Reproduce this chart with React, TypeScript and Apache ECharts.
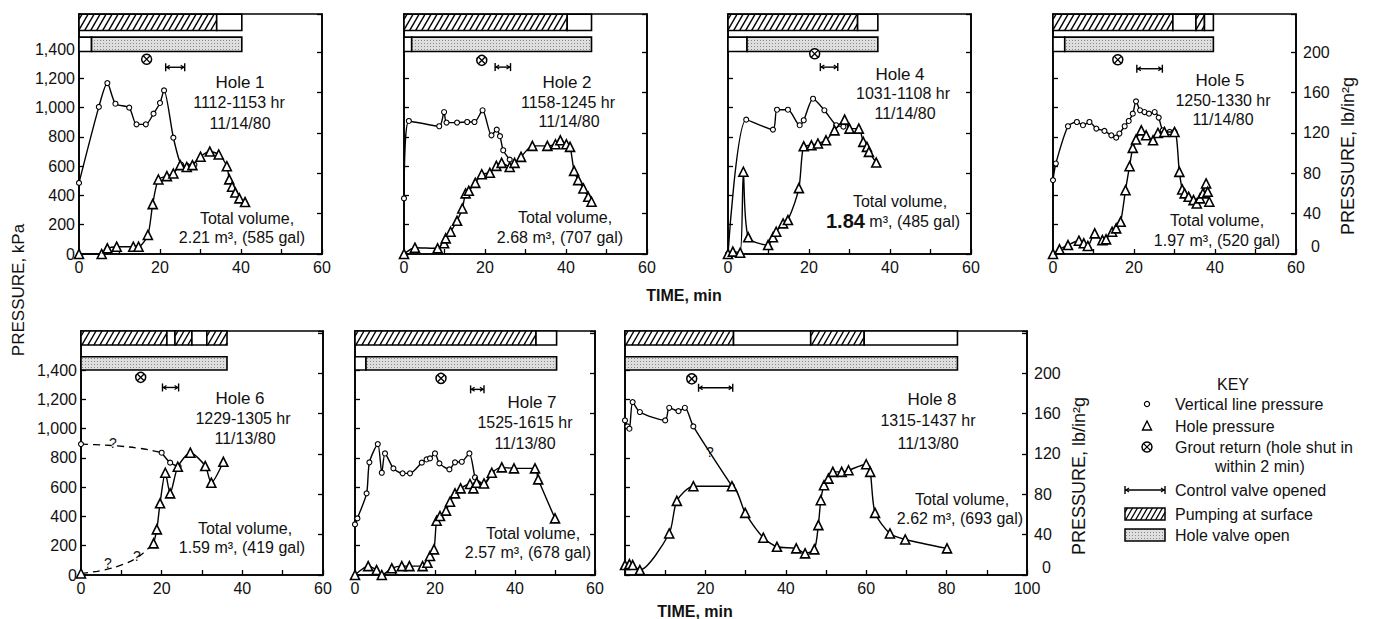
import React, { useEffect, useRef } from "react";
import * as echarts from "echarts";

// ---------------- DATA (time min, pressure kPa) ----------------
// Hole 1
const h1Vertical = [[0,486],[4.9,1005],[7,1168],[9,1027],[12.4,1000],[14.2,886],[16.5,886],[18.4,959],[20,1032],[21,1118],[23.3,795],[25.2,610],[26.8,600],[28.5,610]];
const h1Hole = [[0,0],[5.6,0],[7,39],[9.3,50],[13.4,50],[14.7,50],[17,130],[18.2,341],[19.6,509],[21.7,532],[23.3,550],[25,607],[26.6,595],[28,607],[30,665],[32.3,700],[34.5,680],[36.5,600],[37.1,510],[37.8,460],[38.6,420],[39.6,380],[41,355]];
const h1Pump = [[0,34,0],[34,40.2,1]];
const h1Valve = [[0,3.1,1],[3.1,40.2,2]];
const h1Grout = [[16.7,1331]];
const h1Control = [[21.4,26.1,1276]];

// Hole 2
const h2Vertical = [[0,380],[1.2,909],[8.7,873],[9.9,970],[10.5,898],[13.1,898],[15.6,902],[17.4,902],[19.4,982],[21.6,811],[22.9,850],[23.7,805],[24.5,709],[26.1,645]];
const h2Hole = [[0,0],[2.7,43],[8.3,39],[9.9,73],[10.3,107],[11.5,152],[13.1,227],[14.4,311],[15.2,414],[16,432],[17.6,486],[19.2,545],[21.2,555],[22.8,602],[24.1,623],[26.1,595],[27.3,623],[28.9,664],[31.7,739],[35.4,739],[37.4,750],[38.6,777],[40.1,750],[41,732],[42,568],[43,505],[44.3,448],[45.5,391],[46.3,357]];
const h2Pump = [[0,40.3,0],[40.3,46.3,1]];
const h2Valve = [[0,1.9,1],[1.9,46.3,2]];
const h2Grout = [[19.2,1323]];
const h2Control = [[22.5,26.3,1277]];

// Hole 4
const h4Vertical = [[0,0],[4.5,918],[11.1,850],[12.1,986],[14.8,986],[17.7,880],[18.7,914],[21,1061],[23.8,982],[26.7,880],[28.5,870]];
const h4Hole = [[0,0],[1.2,16],[3,9],[3.8,562],[5,114],[9.9,61],[11.1,114],[11.9,152],[13.6,209],[14.8,232],[17.5,450],[18.7,736],[20.6,743],[22.2,755],[24.2,777],[26.3,845],[28.8,918],[30,857],[32.3,857],[33.4,766],[34.3,732],[34.8,698],[36.6,625]];
const h4Pump = [[0,32,0],[32,37,1]];
const h4Valve = [[0,4.7,1],[4.7,37,2]];
const h4Grout = [[21.4,1368]];
const h4Control = [[22.8,27.1,1277]];

// Hole 5
const h5Vertical = [[0,505],[0.7,618],[3.7,873],[5.9,902],[7.4,880],[9,902],[10.7,857],[12.7,841],[14.4,811],[15.6,795],[16.4,823],[17.7,873],[18.7,909],[19.7,959],[20.5,1043],[21.5,982],[22.6,970],[23.7,959],[25.1,970],[26.1,932],[27.1,845],[28.8,834],[30,834]];
const h5Hole = [[0,0],[1.6,32],[3.7,61],[6.4,91],[7.6,73],[8.6,55],[10.3,141],[12.2,95],[13.1,100],[14.6,152],[15.6,175],[16.7,220],[17.9,436],[18.9,600],[19.7,725],[20.5,782],[21.8,845],[23,811],[24.7,777],[25.9,827],[27.5,834],[30,834],[31.2,561],[31.9,441],[32.5,414],[33.5,391],[34.7,368],[35.5,345],[36.3,380],[37,414],[37.8,482],[38.2,425],[38.6,357]];
const h5Pump = [[0,29.6,0],[29.6,35.3,1],[35.3,37.4,0],[37.4,39.6,1]];
const h5Valve = [[0,2.9,1],[2.9,39.6,2]];
const h5Grout = [[16.0,1327]];
const h5Control = [[20.7,27.0,1266]];

// Hole 6
const h6VerticalDashed = [[0,895],[6,888],[12,875],[17,855],[20,836]];
const h6Vertical = [[20,836],[22.1,768],[24.2,740]];
const h6HoleDashed = [[0,11],[4,25],[8,50],[12,90],[15,140],[18,216]];
const h6Hole = [[18,216],[18.8,312],[19.6,490],[20.9,699],[22.1,558],[24,740],[27.1,836],[30.8,745],[32.3,631],[35.3,774]];
const h6Pump = [[0,21.3,0],[21.3,23.3,1],[23.3,27.5,0],[27.5,31.2,1],[31.2,36.2,0]];
const h6Valve = [[0,36.2,2]];
const h6Grout = [[14.8,1351]];
const h6Control = [[20.2,24.2,1282]];

// Hole 7
const h7Vertical = [[0,346],[0.6,387],[2.9,558],[3.6,770],[5.7,895],[6.7,699],[7.5,831],[9.6,729],[11.9,695],[13.75,695],[16.7,768],[17.9,790],[18.75,797],[20,831],[21.1,763],[23.6,722],[25,770],[26.7,774],[28.6,831],[30,667],[30.8,626],[32.1,615],[34.2,699]];
const h7Hole = [[0,0],[3.3,61],[5.4,34],[6.7,0],[9.2,46],[11.7,61],[13.6,61],[16.9,61],[18.1,84],[18.75,130],[19.75,175],[20.4,371],[21.25,403],[22.75,440],[23.75,501],[25,558],[26.4,592],[28.75,622],[29.6,592],[30.4,631],[32.25,626],[34.2,699],[36.7,736],[39.75,729],[45,729],[45.8,654],[50,387]];
const h7Pump = [[0,45.25,0],[45.25,50.4,1]];
const h7Valve = [[0,2.75,1],[2.75,50.4,2]];
const h7Grout = [[21.5,1344]];
const h7Control = [[28.9,32.25,1269]];

// Hole 8
const h8Vertical = [[0,1057],[0.6,1016],[1.1,1000],[1.9,1182],[3.7,1114],[10,1057],[11,1143],[13.3,1120],[14.9,1143],[17,1016],[26.6,607]];
const h8Hole = [[0,68],[1.1,75],[1.9,68],[3.7,34],[11,284],[12.9,507],[17,607],[26.6,607],[29.9,425],[34.4,255],[37.8,193],[42.6,182],[44.8,148],[47.1,175],[48.1,341],[48.7,511],[49.5,614],[50.6,659],[51.7,705],[53.9,705],[55.6,716],[60,757],[61,705],[62.2,425],[65.9,284],[69.7,243],[80.1,182]];
const h8Pump = [[0,27,0],[27,46.2,1],[46.2,59.5,0],[59.5,82.7,1]];
const h8Valve = [[0,82.7,2]];
const h8Grout = [[16.6,1341]];
const h8Control = [[18.3,26.8,1280]];

const kpaTickStep = 200;
const psiTickStep = 40;
const timeTickStep = 10;
const KPA_PER_PSI = 6.89476;

// ---------------- LAYOUT ----------------
const topRow = { kMax: 1640, pump: [1527, 1638], valve: [1384, 1482] };
const botRow = { kMax: 1668, pump: [1572, 1668], valve: [1401, 1492] };

const panels = [
  { left: 79, top: 14, width: 243, height: 240, tMax: 60, row: topRow, leftLabels: true, rightLabels: false, hideZero: false,
    solid: [h1Vertical], hole: [h1Hole], dashedV: null, dashedH: null, pump: h1Pump, valve: h1Valve, grout: h1Grout, control: h1Control },
  { left: 404, top: 14, width: 243, height: 240, tMax: 60, row: topRow, leftLabels: false, rightLabels: false, hideZero: false,
    solid: [h2Vertical], hole: [h2Hole], dashedV: null, dashedH: null, pump: h2Pump, valve: h2Valve, grout: h2Grout, control: h2Control },
  { left: 728, top: 14, width: 243, height: 240, tMax: 60, row: topRow, leftLabels: false, rightLabels: false, hideZero: false,
    solid: [h4Vertical], hole: [h4Hole], dashedV: null, dashedH: null, pump: h4Pump, valve: h4Valve, grout: h4Grout, control: h4Control },
  { left: 1053, top: 14, width: 243, height: 240, tMax: 60, row: topRow, leftLabels: false, rightLabels: true, hideZero: false,
    solid: [h5Vertical], hole: [h5Hole], dashedV: null, dashedH: null, pump: h5Pump, valve: h5Valve, grout: h5Grout, control: h5Control },
  { left: 81, top: 331, width: 242, height: 244, tMax: 60, row: botRow, leftLabels: true, rightLabels: false, hideZero: false,
    solid: [h6Vertical], hole: [h6Hole], dashedV: h6VerticalDashed, dashedH: h6HoleDashed, pump: h6Pump, valve: h6Valve, grout: h6Grout, control: h6Control },
  { left: 355, top: 331, width: 240, height: 244, tMax: 60, row: botRow, leftLabels: false, rightLabels: false, hideZero: false,
    solid: [h7Vertical], hole: [h7Hole], dashedV: null, dashedH: null, pump: h7Pump, valve: h7Valve, grout: h7Grout, control: h7Control },
  { left: 625, top: 331, width: 402, height: 244, tMax: 100, row: botRow, leftLabels: false, rightLabels: true, hideZero: true,
    solid: [h8Vertical], hole: [h8Hole], dashedV: null, dashedH: null, pump: h8Pump, valve: h8Valve, grout: h8Grout, control: h8Control },
];

const FONT = "Liberation Sans";
const INK = "#111";

const annotations: [string, number, number, number][] = [
  ["Hole 1", 240, 82, 17], ["1112-1153 hr", 239, 102, 16], ["11/14/80", 240, 123, 16],
  ["Total volume,", 247, 218, 16], ["2.21 m³, (585 gal)", 242, 237, 16],
  ["Hole 2", 567, 82, 17], ["1158-1245 hr", 568, 102, 16], ["11/14/80", 569, 121, 16],
  ["Total volume,", 565, 217, 16], ["2.68 m³, (707 gal)", 560, 237, 16],
  ["Hole 4", 900, 74, 17], ["1031-1108 hr", 903, 93, 16], ["11/14/80", 905, 113, 16],
  ["Total volume,", 900, 201, 16], ["{b|1.84} m³, (485 gal)", 893, 221, 16],
  ["Hole 5", 1220, 80, 17], ["1250-1330 hr", 1223, 100, 16], ["11/14/80", 1223, 119, 16],
  ["Total volume,", 1217, 220, 16], ["1.97 m³, (520 gal)", 1217, 240, 16],
  ["Hole 6", 240, 398, 17], ["1229-1305 hr", 243, 418, 16], ["11/13/80", 245, 438, 16],
  ["Total volume,", 245, 528, 16], ["1.59 m³, (419 gal)", 242, 547, 16],
  ["Hole 7", 532, 402, 17], ["1525-1615 hr", 525, 422, 16], ["11/13/80", 525, 443, 16],
  ["Total volume,", 533, 533, 16], ["2.57 m³, (678 gal)", 528, 552, 16],
  ["Hole 8", 932, 399, 17], ["1315-1437 hr", 928, 420, 16], ["11/13/80", 928, 443, 16],
  ["Total volume,", 962, 499, 16], ["2.62 m³, (693 gal)", 960, 518, 16],
  ["?", 113, 443, 14], ["?", 108, 563, 14], ["?", 137, 556, 14], ["?", 710, 452, 14],
];

// ---------------- helpers ----------------
function hatch(x0: number, y0: number, w: number, h: number, spacing = 6, k = 0.58) {
  const out: any[] = [];
  const dx = h * k;
  for (let c = x0 - dx + spacing / 2; c < x0 + w; c += spacing) {
    const s0 = Math.max(0, (x0 - c) / dx);
    const s1 = Math.min(1, (x0 + w - c) / dx);
    if (s1 <= s0) continue;
    out.push({ x1: c + s0 * dx, y1: y0 + h - s0 * h, x2: c + s1 * dx, y2: y0 + h - s1 * h });
  }
  return out;
}

function makeDotPattern() {
  const c = document.createElement("canvas");
  c.width = 3; c.height = 3;
  const g = c.getContext("2d")!;
  g.fillStyle = "#dedede"; g.fillRect(0, 0, 3, 3);
  g.fillStyle = "#888"; g.fillRect(1, 1, 1, 1);
  return { image: c.toDataURL(), imageWidth: 3, imageHeight: 3, repeat: "repeat" };
}

function fmtK(v: number) {
  if (Math.abs(v % kpaTickStep) > 1e-6 || v > 1400) return "";
  if (v >= 1000) return `${Math.floor(v / 1000)},${String(v % 1000).padStart(3, "0")}`;
  return String(v);
}

function grout(cx: number, cy: number, r = 5) {
  const d = r * 0.68;
  return [
    { type: "circle", shape: { cx, cy, r }, style: { fill: "#fff", stroke: "#000", lineWidth: 1.5 } },
    { type: "line", shape: { x1: cx - d, y1: cy - d, x2: cx + d, y2: cy + d }, style: { stroke: "#000", lineWidth: 1.3 } },
    { type: "line", shape: { x1: cx - d, y1: cy + d, x2: cx + d, y2: cy - d }, style: { stroke: "#000", lineWidth: 1.3 } },
  ];
}

function valveMark(x0: number, x1: number, y: number) {
  return [
    { type: "line", shape: { x1: x0, y1: y, x2: x1, y2: y }, style: { stroke: "#000", lineWidth: 1.4 } },
    { type: "line", shape: { x1: x0, y1: y - 4, x2: x0, y2: y + 4 }, style: { stroke: "#000", lineWidth: 1.4 } },
    { type: "line", shape: { x1: x1, y1: y - 4, x2: x1, y2: y + 4 }, style: { stroke: "#000", lineWidth: 1.4 } },
    { type: "polyline", shape: { points: [[x0 + 4, y - 2], [x0 + 1, y], [x0 + 4, y + 2]] }, style: { stroke: "#000", fill: "none", lineWidth: 1.2 } },
    { type: "polyline", shape: { points: [[x1 - 4, y - 2], [x1 - 1, y], [x1 - 4, y + 2]] }, style: { stroke: "#000", fill: "none", lineWidth: 1.2 } },
  ];
}

function buildOption() {
  const dots = makeDotPattern();
  const grid: any[] = [], xAxis: any[] = [], yAxis: any[] = [], series: any[] = [];
  const lbl = { fontFamily: FONT, fontSize: 16, color: INK };
  const tick = { show: true, inside: true, length: 5, lineStyle: { color: "#000", width: 1.3 } };

  panels.forEach((p, i) => {
    grid.push({ left: p.left, top: p.top, width: p.width, height: p.height, show: true, borderColor: "#000", borderWidth: 1.6, backgroundColor: "transparent", containLabel: false });
    xAxis.push({
      gridIndex: i, type: "value", min: 0, max: p.tMax, interval: timeTickStep,
      axisLine: { show: true, onZero: false, lineStyle: { color: "#000", width: 1.6 } },
      axisTick: tick, splitLine: { show: false },
      axisLabel: { ...lbl, margin: 5, formatter: (v: number) => (v % 20 === 0 && !(p.hideZero && v === 0) ? String(v) : "") },
    });
    yAxis.push({
      gridIndex: i, type: "value", min: 0, max: p.row.kMax, interval: kpaTickStep, position: "left",
      axisLine: { show: true, onZero: false, lineStyle: { color: "#000", width: 1.6 } },
      axisTick: tick, splitLine: { show: false },
      axisLabel: { ...lbl, show: p.leftLabels, margin: 4, formatter: fmtK },
    });
    yAxis.push({
      gridIndex: i, type: "value", min: 0, max: p.row.kMax / KPA_PER_PSI, interval: psiTickStep, position: "right",
      axisLine: { show: true, onZero: false, lineStyle: { color: "#000", width: 1.6 } },
      axisTick: tick, splitLine: { show: false },
      axisLabel: { ...lbl, show: p.rightLabels, margin: 7,
        formatter: (v: number) => (v === 0 ? "{z|0}" : Math.abs(v % psiTickStep) < 1e-6 && v <= 200 ? String(v) : ""),
        rich: { z: { fontFamily: FONT, fontSize: 16, color: INK, padding: [0, 0, 16, 8] } } },
    });
    const yi = 2 * i;
    const common = { xAxisIndex: i, yAxisIndex: yi, silent: true, animation: false };

    if (p.dashedV) {
      series.push({ ...common, type: "line", data: p.dashedV.map((pt, j) => ({ value: pt, symbol: j === 0 ? "circle" : "none" })),
        smooth: 0.3, symbolSize: 5, showAllSymbol: true, lineStyle: { color: "#000", width: 1.3, type: [7, 5] },
        itemStyle: { color: "#fff", borderColor: "#000", borderWidth: 1.1 }, z: 3 });
    }
    if (p.dashedH) {
      series.push({ ...common, type: "line", data: p.dashedH.map((pt, j) => ({ value: pt, symbol: j === 0 ? "triangle" : "none" })),
        smooth: 0.3, symbolSize: 9, showAllSymbol: true, lineStyle: { color: "#000", width: 1.3, type: [7, 5] },
        itemStyle: { color: "#fff", borderColor: "#000", borderWidth: 1.5 }, z: 4 });
    }
    p.solid.forEach((d) => series.push({ ...common, type: "line", data: d, smooth: 0.25, symbol: "circle", symbolSize: 5, showAllSymbol: true,
      lineStyle: { color: "#000", width: 1.4 }, itemStyle: { color: "#fff", borderColor: "#000", borderWidth: 1.1 }, z: 3 }));
    p.hole.forEach((d) => series.push({ ...common, type: "line", data: d, smooth: 0.25, symbol: "triangle", symbolSize: 9, showAllSymbol: true,
      lineStyle: { color: "#000", width: 1.4 }, itemStyle: { color: "#fff", borderColor: "#000", borderWidth: 1.6 }, z: 4 }));

    const row = p.row;
    const bars = [...p.pump.map((s) => [s[0], s[1], s[2], 0]), ...p.valve.map((s) => [s[0], s[1], s[2], 1])];
    series.push({ ...common, type: "custom", data: bars, encode: { x: [0, 1] }, z: 6,
      renderItem: (_params: any, api: any) => {
        const t0 = api.value(0), t1 = api.value(1), kind = api.value(2), lane = api.value(3);
        const [lo, hi] = lane === 0 ? row.pump : row.valve;
        const a = api.coord([t0, hi]), b = api.coord([t1, lo]);
        const x = a[0], y = a[1], w = b[0] - a[0], h = b[1] - a[1];
        const children: any[] = [{ type: "rect", shape: { x, y, width: w, height: h }, style: { fill: kind === 2 ? dots : "#fff", stroke: "none" } }];
        if (kind === 0) hatch(x, y, w, h).forEach((s) => children.push({ type: "line", shape: s, style: { stroke: "#000", lineWidth: 1.4 } }));
        children.push({ type: "rect", shape: { x, y, width: w, height: h }, style: { fill: "none", stroke: "#000", lineWidth: 1.6 } });
        return { type: "group", children };
      } });
    series.push({ ...common, type: "custom", data: p.grout, z: 7,
      renderItem: (_params: any, api: any) => {
        const c = api.coord([api.value(0), api.value(1)]);
        return { type: "group", children: grout(c[0], c[1]) };
      } });
    series.push({ ...common, type: "custom", data: p.control, encode: { x: [0, 1] }, z: 7,
      renderItem: (_params: any, api: any) => {
        const a = api.coord([api.value(0), api.value(2)]);
        const b = api.coord([api.value(1), api.value(2)]);
        return { type: "group", children: valveMark(a[0], b[0], a[1]) };
      } });
  });

  const graphic: any[] = [];
  annotations.forEach(([text, x, y, size]) => {
    graphic.push({ type: "text", x, y, silent: true, style: { text, fontFamily: FONT, fontSize: size, fill: INK, align: "center", verticalAlign: "middle",
      rich: { b: { fontFamily: FONT, fontSize: 20, fontWeight: "bold", fill: INK } } } });
  });
  // axis titles
  const title = (text: string, x: number, y: number, rot: number, size: number, bold = false) => ({
    type: "text", x, y, rotation: rot, silent: true,
    style: { text, fontFamily: FONT, fontSize: size, fontWeight: bold ? "bold" : "normal", fill: INK, align: "center", verticalAlign: "middle" },
  });
  graphic.push(title("PRESSURE, kPa", 18, 290, Math.PI / 2, 17));
  graphic.push(title("PRESSURE, lb/in²g", 1348, 156, Math.PI / 2, 18));
  graphic.push(title("PRESSURE, lb/in²g", 1079, 476, Math.PI / 2, 18));
  graphic.push(title("TIME, min", 684, 295, 0, 16, true));
  graphic.push(title("TIME, min", 695, 611, 0, 16, true));

  // key
  const keyText = (text: string, x: number, y: number, align = "left") => ({
    type: "text", x, y, silent: true, style: { text, fontFamily: FONT, fontSize: 16, fill: INK, align, verticalAlign: "middle" },
  });
  graphic.push(keyText("KEY", 1233, 384, "center"));
  graphic.push({ type: "circle", shape: { cx: 1147, cy: 404, r: 2.6 }, style: { fill: "#fff", stroke: "#000", lineWidth: 1.2 } });
  graphic.push(keyText("Vertical line pressure", 1175, 404));
  graphic.push({ type: "polygon", shape: { points: [[1147, 421], [1151.5, 430], [1142.5, 430]] }, style: { fill: "#fff", stroke: "#000", lineWidth: 1.4 } });
  graphic.push(keyText("Hole pressure", 1175, 426));
  grout(1147, 447).forEach((g) => graphic.push(g));
  graphic.push(keyText("Grout return (hole shut in", 1175, 447));
  graphic.push(keyText("within 2 min)", 1215, 466));
  valveMark(1125, 1165, 490).forEach((g) => graphic.push(g));
  graphic.push(keyText("Control valve opened", 1175, 490));
  graphic.push({ type: "rect", shape: { x: 1125, y: 508, width: 40, height: 12 }, style: { fill: "#fff", stroke: "none" } });
  hatch(1125, 508, 40, 12, 5).forEach((s) => graphic.push({ type: "line", shape: s, style: { stroke: "#000", lineWidth: 1.3 } }));
  graphic.push({ type: "rect", shape: { x: 1125, y: 508, width: 40, height: 12 }, style: { fill: "none", stroke: "#000", lineWidth: 1.5 } });
  graphic.push(keyText("Pumping at surface", 1175, 514));
  graphic.push({ type: "rect", shape: { x: 1125, y: 529, width: 40, height: 12 }, style: { fill: dots, stroke: "#000", lineWidth: 1.5 } });
  graphic.push(keyText("Hole valve open", 1175, 535));

  return { animation: false, backgroundColor: "#fff", grid, xAxis, yAxis, series, graphic };
}

export default function App() {
  const ref = useRef<HTMLDivElement>(null);
  useEffect(() => {
    document.body.style.margin = "0";
    const chart = echarts.init(ref.current!, null, { renderer: "svg" });
    chart.setOption(buildOption() as any);
    return () => chart.dispose();
  }, []);
  return <div ref={ref} style={{ position: "absolute", left: 0, top: 0, width: 1375, height: 619, background: "#fff" }} />;
}
